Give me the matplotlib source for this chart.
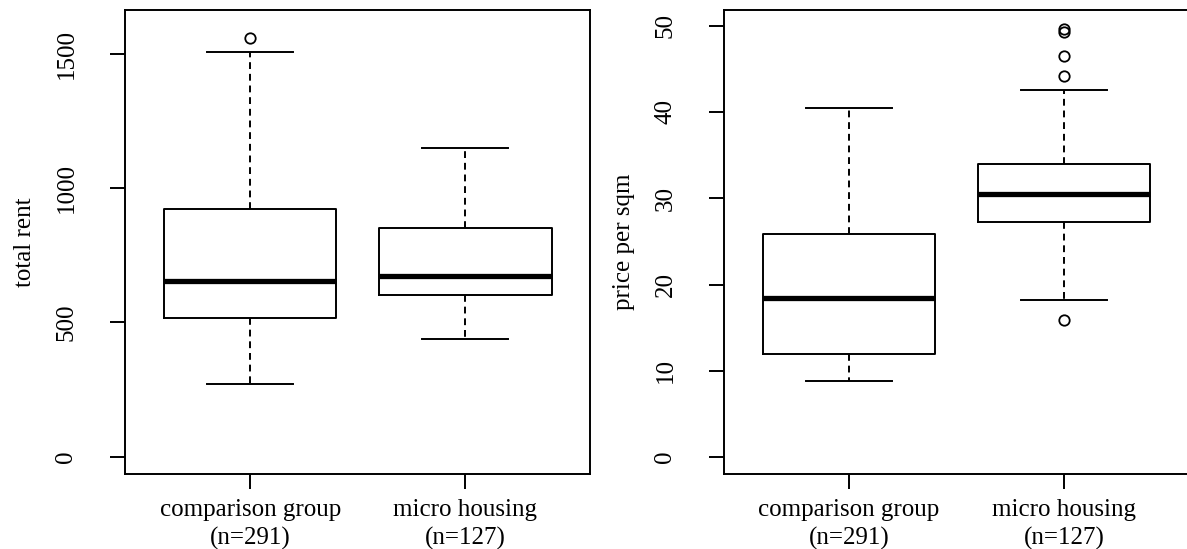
import matplotlib
matplotlib.use('Agg')
import matplotlib.pyplot as plt

plt.rcParams['font.family'] = ['Liberation Serif', 'DejaVu Serif']

GROUPS = ['comparison group\n(n=291)', 'micro housing\n(n=127)']

# total rent: whisker low, Q1, median, Q3, whisker high
RENT_WLO = [270, 438]
RENT_Q1 = [515, 601]
RENT_MED = [654, 674]
RENT_Q3 = [921, 853]
RENT_WHI = [1505, 1149]
RENT_FLIERS = [[1558], []]

# price per sqm
SQM_WLO = [8.8, 18.25]
SQM_Q1 = [12.0, 27.2]
SQM_MED = [18.4, 30.5]
SQM_Q3 = [25.9, 33.95]
SQM_WHI = [40.5, 42.6]
SQM_FLIERS = [[], [15.9, 44.2, 46.5, 49.3, 49.6]]

RENT_TICKS = [0, 500, 1000, 1500]
SQM_TICKS = [0, 10, 20, 30, 40, 50]

FONT_SIZE = 18
LW = 1.4


def make_stats(wlo, q1, med, q3, whi, fliers):
    stats = []
    for i in range(len(med)):
        stats.append({'whislo': wlo[i], 'q1': q1[i], 'med': med[i],
                      'q3': q3[i], 'whishi': whi[i], 'fliers': fliers[i]})
    return stats


def draw_panel(ax, stats, ticks, ylim, ylabel):
    ax.bxp(stats, positions=[1, 2], widths=0.8, capwidths=0.4,
           boxprops=dict(color='black', linewidth=LW),
           whiskerprops=dict(color='black', linewidth=LW, linestyle=(0, (3.5, 2.5))),
           capprops=dict(color='black', linewidth=LW),
           medianprops=dict(color='black', linewidth=3.8, solid_capstyle='butt'),
           flierprops=dict(marker='o', markersize=7.5, markerfacecolor='none',
                           markeredgecolor='black', markeredgewidth=1.3))
    ax.set_xlim(0.42, 2.58)
    ax.set_ylim(*ylim)
    ax.set_yticks(ticks)
    ax.set_yticklabels([str(t) for t in ticks], rotation=90, va='center',
                       fontsize=FONT_SIZE)
    ax.set_xticks([1, 2])
    ax.set_xticklabels(GROUPS, fontsize=FONT_SIZE, linespacing=1.35)
    ax.tick_params(axis='both', direction='out', length=10.5, width=LW,
                   color='black')
    ax.tick_params(axis='y', pad=24)
    ax.tick_params(axis='x', pad=7)
    ax.set_ylabel(ylabel, fontsize=FONT_SIZE, labelpad=14)
    for s in ax.spines.values():
        s.set_linewidth(LW)
        s.set_color('black')


fig = plt.figure(figsize=(11.87, 5.49), dpi=100)
ax1 = fig.add_axes([0.1056, 0.136, 0.3917, 0.8463])
ax2 = fig.add_axes([0.6102, 0.136, 0.3911, 0.8463])

draw_panel(ax1, make_stats(RENT_WLO, RENT_Q1, RENT_MED, RENT_Q3, RENT_WHI, RENT_FLIERS),
           RENT_TICKS, (-65, 1663), 'total rent')
draw_panel(ax2, make_stats(SQM_WLO, SQM_Q1, SQM_MED, SQM_Q3, SQM_WHI, SQM_FLIERS),
           SQM_TICKS, (-2.0, 51.85), 'price per sqm')

fig.savefig('out.png', dpi=100)
